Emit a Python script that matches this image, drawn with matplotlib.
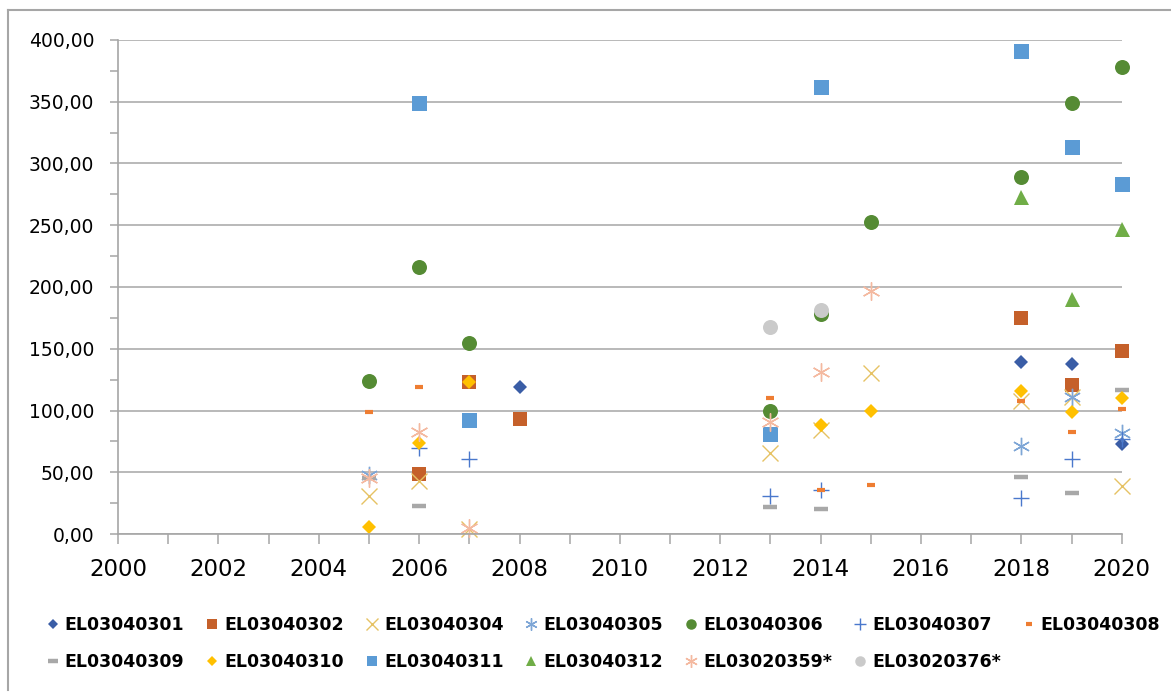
import matplotlib
matplotlib.use('Agg')
import matplotlib.pyplot as plt
import numpy as np
from matplotlib.lines import Line2D
from matplotlib.ticker import MultipleLocator, FuncFormatter

# sampling years shared by all stations (None = no measurement)
years = [2005, 2006, 2007, 2008, 2013, 2014, 2015, 2018, 2019, 2020]

el03040301 = [None, None, None, 119, None, None, None, 139, 138, 73]
el03040302 = [None, 49, 123, 93, None, None, None, 175, 121, 148]
el03040304 = [31, 43, 4, None, 66, 84, 130, 108, 111, 39]
el03040305 = [48, None, None, None, None, None, None, 71, 111, 82]
el03040306 = [124, 216, 155, None, 100, 178, 253, 289, 349, 378]
el03040307 = [None, 70, 61, None, 31, 36, None, 29, 61, 77]
el03040308 = [99, 119, None, None, 110, 36, 40, 108, 83, 101]
el03040309 = [45, 23, None, None, 22, 20, None, 46, 33, 117]
el03040310 = [6, 74, 123, None, None, 88, 100, 116, 99, 110]
el03040311 = [None, 349, 92, None, 81, 362, None, 391, 313, 283]
el03040312 = [None, None, None, None, None, None, None, 273, 190, 247]
el03020359 = [45, 83, 5, None, 91, 131, 197, None, None, None]
el03020376 = [None, None, None, None, 168, 181, None, None, None, None]

labels = ['EL03040301', 'EL03040302', 'EL03040304', 'EL03040305',
          'EL03040306', 'EL03040307', 'EL03040308', 'EL03040309',
          'EL03040310', 'EL03040311', 'EL03040312', 'EL03020359*',
          'EL03020376*']
series = [el03040301, el03040302, el03040304, el03040305, el03040306,
          el03040307, el03040308, el03040309, el03040310, el03040311,
          el03040312, el03020359, el03020376]

ASTER = (6, 2, 0)
# marker, colour, size, edge width
STYLES = [
    ('D', '#3A5DA6', 7.2, 0),
    ('s', '#C5602A', 10.5, 0),
    ('x', '#E6C264', 11.5, 1.0),
    (ASTER, '#7EA6D6', 12.5, 1.0),
    ('o', '#558B34', 10.8, 0),
    ('+', '#4A78CC', 12.0, 1.0),
    ('_', '#EE7D32', 6.0, 3.0),
    ('_', '#A8A8A8', 10.0, 3.2),
    ('D', '#FFC000', 7.6, 0),
    ('s', '#5B9BD5', 10.8, 0),
    ('^', '#70AD47', 10.8, 0),
    (ASTER, '#F4B9A0', 13.0, 1.0),
    ('o', '#CACACA', 10.8, 0),
]

GRID = '#A6A6A6'

fig = plt.figure(figsize=(11.71, 7.0), dpi=100)
ax = fig.add_axes([0.1008, 0.2371, 0.8571, 0.7058])

x = np.array(years, dtype=float)
handles = []
for vals, lab, (mk, col, ms, mew) in zip(series, labels, STYLES):
    y = np.array([np.nan if v is None else v for v in vals], dtype=float)
    h, = ax.plot(x, y, linestyle='none', marker=mk, markersize=ms,
                 color=col, markeredgewidth=mew, label=lab, clip_on=False)
    handles.append(h)

ax.set_xlim(2000, 2020)
ax.set_ylim(0, 400)
ax.xaxis.set_major_locator(MultipleLocator(2))
ax.xaxis.set_minor_locator(MultipleLocator(1))
ax.yaxis.set_major_locator(MultipleLocator(50))
ax.yaxis.set_minor_locator(MultipleLocator(25))
ax.yaxis.set_major_formatter(FuncFormatter(lambda v, p: f'{v:.2f}'.replace('.', ',')))

ax.grid(axis='y', which='major', color=GRID, linewidth=1.1)
ax.set_axisbelow(True)
for s in ['top', 'right']:
    ax.spines[s].set_visible(False)
for s in ['left', 'bottom']:
    ax.spines[s].set_color(GRID)
    ax.spines[s].set_linewidth(1.2)

ax.tick_params(axis='x', which='both', direction='out', length=7,
               width=1.1, color=GRID, labelsize=16.5, pad=10)
ax.tick_params(axis='y', which='both', direction='out', length=6,
               width=1.1, color=GRID, labelsize=13.5, pad=11)

# legend is filled column-wise, so interleave to read row by row
order = [0, 7, 1, 8, 2, 9, 3, 10, 4, 11, 5, 12, 6]
leg = fig.legend([handles[i] for i in order], [labels[i] for i in order],
                 loc='center', bbox_to_anchor=(0.515, 0.081), ncol=7,
                 frameon=False, markerscale=0.7, handlelength=0.8,
                 handletextpad=0.3, columnspacing=1.2, labelspacing=1.1,
                 prop={'weight': 'bold', 'size': 12.5})

# outer chart frame
fig.add_artist(Line2D([8 / 1171, 8 / 1171], [1 - 10 / 700, 1 - 690 / 700],
                      transform=fig.transFigure, color=GRID, linewidth=1.5))
fig.add_artist(Line2D([8 / 1171, 1.0], [1 - 10 / 700, 1 - 10 / 700],
                      transform=fig.transFigure, color=GRID, linewidth=1.5))

fig.savefig('out.png', dpi=100)
